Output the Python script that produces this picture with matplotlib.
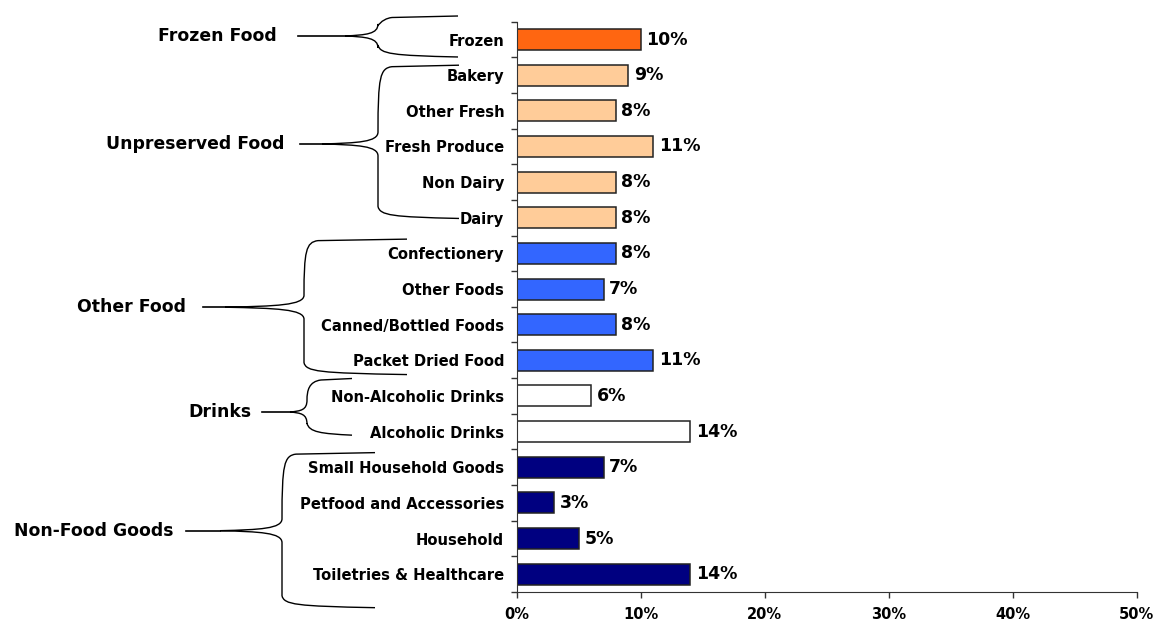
import matplotlib
matplotlib.use('Agg')
import matplotlib.pyplot as plt
from matplotlib.path import Path
from matplotlib.patches import PathPatch
from matplotlib.transforms import blended_transform_factory
from matplotlib.ticker import FuncFormatter

# data, top to bottom
categories = ['Frozen', 'Bakery', 'Other Fresh', 'Fresh Produce', 'Non Dairy', 'Dairy',
              'Confectionery', 'Other Foods', 'Canned/Bottled Foods', 'Packet Dried Food',
              'Non-Alcoholic Drinks', 'Alcoholic Drinks',
              'Small Household Goods', 'Petfood and Accessories', 'Household',
              'Toiletries & Healthcare']
values = [10, 9, 8, 11, 8, 8, 8, 7, 8, 11, 6, 14, 7, 3, 5, 14]
groups = ['Frozen Food', 'Unpreserved Food', 'Other Food', 'Drinks', 'Non-Food Goods']
group_sizes = [1, 5, 4, 2, 4]
group_colors = ['#FF6611', '#FFCC99', '#3366FF', '#FFFFFF', '#000080']

# brace layout: (top, bottom, tip) in category units, x in figure pixels
brace_y = [(-0.66, 0.49, -0.1), (0.72, 5.02, 2.93), (5.6, 9.4, 7.51),
           (9.51, 11.1, 10.45), (11.59, 15.94, 13.78)]
brace_x = [  # label right, line start, tip, vertical, arm end
    (277, 298, 345, 378, 458),
    (284, 300, 322, 378, 459),
    (186, 203, 225, 304, 407),
    (252, 262, 290, 307, 352),
    (173, 186, 220, 282, 375),
]

W, H = 1157, 624
fig = plt.figure(figsize=(W / 100, H / 100), dpi=100)
ax = fig.add_axes([516.7 / W, 1 - 592 / H, 620 / W, 570.3 / H])

colors = []
for c, n in zip(group_colors, group_sizes):
    colors += [c] * n

ypos = list(range(len(categories)))
ax.barh(ypos, values, height=0.59, color=colors, edgecolor='#222222', linewidth=1.1)
for y, v in zip(ypos, values):
    ax.annotate('%d%%' % v, (v, y), xytext=(4, 0), textcoords='offset points',
                va='center', ha='left', fontsize=12.5, fontweight='bold')

ax.set_xlim(0, 50)
ax.set_ylim(len(categories) - 0.5, -0.5)
ax.set_xticks(range(0, 51, 10))
ax.xaxis.set_major_formatter(FuncFormatter(lambda v, p: '%d%%' % v))
ax.set_yticks(ypos)
ax.set_yticklabels(categories, fontsize=10.6, fontweight='bold')
ax.set_yticks([i - 0.5 for i in range(len(categories) + 1)], minor=True)
ax.tick_params(axis='y', which='major', length=0, pad=9)
ax.tick_params(axis='y', which='minor', length=4, width=1, color='#333333', direction='out')
ax.tick_params(axis='x', length=4, width=1, color='#333333', pad=7, labelsize=10.5)
for lab in ax.get_xticklabels():
    lab.set_fontweight('bold')
for s in ['top', 'right']:
    ax.spines[s].set_visible(False)
for s in ['left', 'bottom']:
    ax.spines[s].set_color('#333333')

# braces
tr = blended_transform_factory(fig.transFigure, ax.transData)
upx = 570.3 / len(categories)  # pixels per category


def fx(px):
    return px / W


for g, (top, bot, tip), (xl, xs, xt, xv, xe) in zip(groups, brace_y, brace_x):
    r = 12 / upx
    verts = [
        (fx(xe), top), (fx(xv + 14), top + 1.5 / upx),
        (fx(xv + 2), top + 3 / upx), (fx(xv), top + r),
        (fx(xv), tip - r),
        (fx(xv), tip - 2 / upx), (fx(xv - 0.35 * (xv - xt)), tip - 1 / upx), (fx(xt), tip),
        (fx(xv - 0.35 * (xv - xt)), tip + 1 / upx), (fx(xv), tip + 2 / upx), (fx(xv), tip + r),
        (fx(xv), bot - r),
        (fx(xv + 2), bot - 3 / upx), (fx(xv + 14), bot - 1.5 / upx), (fx(xe), bot),
    ]
    codes = [Path.MOVETO, Path.LINETO, Path.CURVE4, Path.CURVE4, Path.LINETO,
             Path.CURVE4, Path.CURVE4, Path.CURVE4, Path.CURVE4, Path.CURVE4, Path.CURVE4,
             Path.LINETO, Path.CURVE4, Path.CURVE4, Path.CURVE4]
    fig.add_artist(PathPatch(Path(verts, codes), transform=tr, fill=False,
                             edgecolor='black', linewidth=1.0))
    fig.add_artist(plt.Line2D([fx(xs), fx(xt)], [tip, tip], transform=tr,
                              color='black', linewidth=1.2))
    fig.text(fx(xl), tip, g, transform=tr, ha='right', va='center',
             fontsize=12.4, fontweight='bold')

fig.savefig('out.png', dpi=100, facecolor='white')
